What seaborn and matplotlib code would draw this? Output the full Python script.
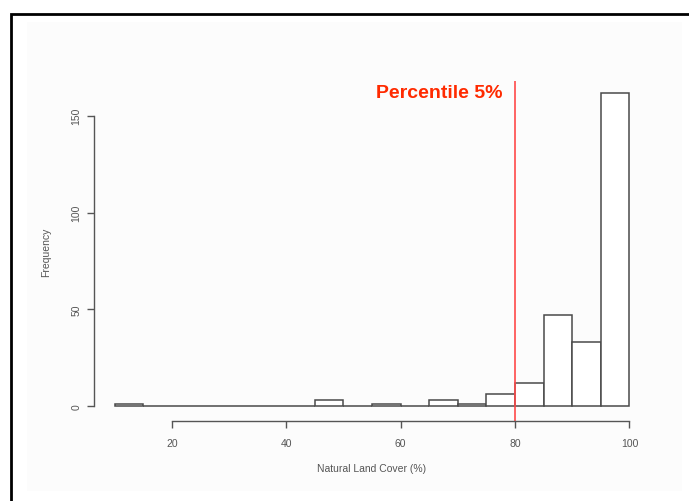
import seaborn as sns
import matplotlib.pyplot as plt
import numpy as np
import pandas as pd
from matplotlib.patches import Rectangle

# histogram counts (5% wide bins)
bin_edges = [10, 15, 20, 25, 30, 35, 40, 45, 50, 55, 60, 65, 70, 75, 80, 85, 90, 95, 100]
counts = [1, 0, 0, 0, 0, 0, 0, 3, 0, 1, 0, 3, 1, 6, 12, 47, 33, 162]
percentile_5 = 80
x_ticks = [20, 40, 60, 80, 100]
y_ticks = [0, 50, 100, 150]

sns.set_style('white')
plt.rcParams['font.family'] = ['Liberation Sans', 'DejaVu Sans']

edges = np.array(bin_edges)
df = pd.DataFrame({'cover': (edges[:-1] + edges[1:]) / 2, 'n': counts})

W, H = 689, 502
fig = plt.figure(figsize=(W / 100, H / 100), dpi=100)

# outer frame and faint panel like the screenshot
fig.patches.append(Rectangle((27 / W, 1 - 492 / H), (682 - 27) / W, (492 - 23) / H,
                             transform=fig.transFigure, facecolor='#fcfcfc',
                             edgecolor='none', zorder=-5))
fig.patches.append(Rectangle((11 / W, -0.1), 1.2, 1 - 15 / H + 0.1,
                             transform=fig.transFigure, fill=False,
                             edgecolor='black', linewidth=2, zorder=5))

ax = fig.add_axes([94 / W, 1 - 422 / H, (650 - 94) / W, (422 - 82) / H])
ax.patch.set_alpha(0)

sns.histplot(data=df, x='cover', weights='n', bins=bin_edges, color='white',
             edgecolor='#4a4a4a', linewidth=1.1, alpha=1, ax=ax)

ax.axvline(percentile_5, color='#ff4a4a', linewidth=1.2)
ax.text(percentile_5 - 2.1, 162, 'Percentile 5%', color='#ff2a00',
        fontweight='bold', fontsize=14, ha='right', va='center')

ax.set_xlim(6.4, 103.6)
ax.set_ylim(-7.8, 168)
ax.set_xticks(x_ticks)
ax.set_yticks(y_ticks)
ax.set_yticklabels([str(v) for v in y_ticks], rotation=90, va='center')

for s in ['top', 'right']:
    ax.spines[s].set_visible(False)
ax.spines['left'].set_bounds(0, 150)
ax.spines['bottom'].set_bounds(20, 100)
for s in ['left', 'bottom']:
    ax.spines[s].set_color('#555555')
    ax.spines[s].set_linewidth(1)

ax.tick_params(bottom=True, left=True, direction='out', length=5, width=1,
               colors='#555555', labelsize=7.5, pad=7)
ax.tick_params(axis='y', pad=4)

ax.set_xlabel('Natural Land Cover (%)', fontsize=7.5, color='#555555', labelpad=11)
ax.set_ylabel('Frequency', fontsize=7.5, color='#555555', labelpad=15)

fig.savefig('out.png', dpi=100)
